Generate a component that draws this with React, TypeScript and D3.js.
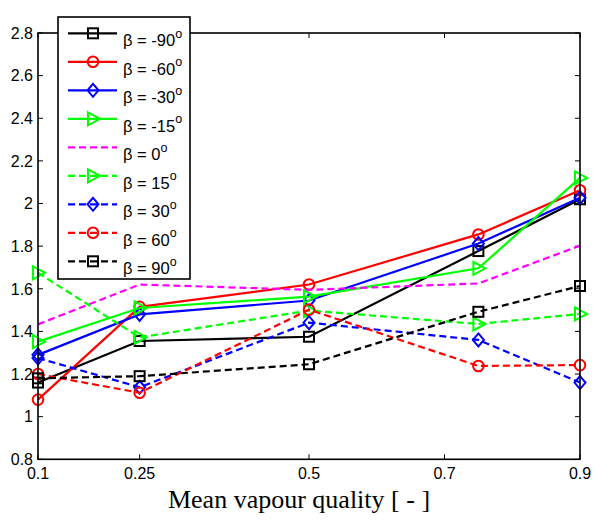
import React from "react";
import * as d3 from "d3";

const xValues = [0.1, 0.25, 0.5, 0.75, 0.9];
const xTicks = [0.1, 0.25, 0.5, 0.7, 0.9];
const xTickLabels = ["0.1", "0.25", "0.5", "0.7", "0.9"];
const yTicks = [0.8, 1, 1.2, 1.4, 1.6, 1.8, 2, 2.2, 2.4, 2.6, 2.8];
const yTickLabels = ["0.8", "1", "1.2", "1.4", "1.6", "1.8", "2", "2.2", "2.4", "2.6", "2.8"];

const seriesNames = ["-90", "-60", "-30", "-15", "0", "15", "30", "60", "90"];
const seriesColors = ["#000000", "#ff0000", "#0000ff", "#00ff00", "#ff00ff", "#00ff00", "#0000ff", "#ff0000", "#000000"];
const seriesDashed = [false, false, false, false, true, true, true, true, true];
const seriesMarkers = ["square", "circle", "diamond", "triangle", "none", "triangle", "diamond", "circle", "square"];

const sMinus90 = [1.16, 1.355, 1.375, 1.777, 2.02];
const sMinus60 = [1.08, 1.515, 1.62, 1.855, 2.062];
const sMinus30 = [1.29, 1.48, 1.545, 1.812, 2.027];
const sMinus15 = [1.352, 1.51, 1.563, 1.696, 2.12];
const s0 = [1.433, 1.62, 1.595, 1.625, 1.802];
const s15 = [1.675, 1.372, 1.498, 1.435, 1.482];
const s30 = [1.275, 1.138, 1.441, 1.36, 1.16];
const s60 = [1.2, 1.112, 1.502, 1.238, 1.242];
const s90 = [1.18, 1.19, 1.246, 1.492, 1.613];

const seriesValues = [sMinus90, sMinus60, sMinus30, sMinus15, s0, s15, s30, s60, s90];

const W = 611;
const H = 523;
const left = 38;
const right = 580;
const top = 33;
const bottom = 459.3;

function Marker({ type, x, y, color }: { type: string; x: number; y: number; color: string }) {
  const sw = 2;
  if (type === "square") {
    return <rect x={x - 5} y={y - 5} width={10} height={10} fill="none" stroke={color} strokeWidth={sw} />;
  }
  if (type === "circle") {
    return <circle cx={x} cy={y} r={5.3} fill="none" stroke={color} strokeWidth={sw} />;
  }
  if (type === "diamond") {
    const p = `${x},${y - 6.5} ${x + 5.5},${y} ${x},${y + 6.5} ${x - 5.5},${y}`;
    return <polygon points={p} fill="none" stroke={color} strokeWidth={sw} />;
  }
  if (type === "triangle") {
    const p = `${x - 5},${y - 6.5} ${x + 7},${y} ${x - 5},${y + 6.5}`;
    return <polygon points={p} fill="none" stroke={color} strokeWidth={sw} />;
  }
  return null;
}

export default function App() {
  const xScale = d3.scaleLinear().domain([0.1, 0.9]).range([left, right]);
  const yScale = d3.scaleLinear().domain([0.8, 2.8]).range([bottom, top]);
  const line = d3
    .line<number>()
    .x((_, i) => xScale(xValues[i]))
    .y((d) => yScale(d));

  const legX = 58;
  const legY = 17;
  const legW = 132;
  const legH = 262;
  const rowY0 = 33.3;
  const rowStep = 28.5;

  const font = "'Liberation Sans', Arial, sans-serif";

  return (
    <svg width={W} height={H} style={{ position: "absolute", left: 0, top: 0, background: "#fff" }}>
      <rect x={0} y={0} width={W} height={H} fill="#fff" />
      {yTicks.map((t, i) => (
        <g key={"y" + i}>
          <line x1={left} x2={left + 5} y1={yScale(t)} y2={yScale(t)} stroke="#000" strokeWidth={1} />
          <line x1={right} x2={right - 5} y1={yScale(t)} y2={yScale(t)} stroke="#000" strokeWidth={1} />
          <text x={33} y={yScale(t)} dy="0.36em" textAnchor="end" fontFamily={font} fontSize={16} fill="#000">
            {yTickLabels[i]}
          </text>
        </g>
      ))}
      {xTicks.map((t, i) => (
        <g key={"x" + i}>
          <line x1={xScale(t)} x2={xScale(t)} y1={bottom} y2={bottom - 5} stroke="#000" strokeWidth={1} />
          <line x1={xScale(t)} x2={xScale(t)} y1={top} y2={top + 5} stroke="#000" strokeWidth={1} />
          <text x={xScale(t)} y={479} textAnchor="middle" fontFamily={font} fontSize={16} fill="#000">
            {xTickLabels[i]}
          </text>
        </g>
      ))}
      {seriesValues.map((vals, si) => (
        <g key={"s" + si}>
          <path
            d={line(vals) || ""}
            fill="none"
            stroke={seriesColors[si]}
            strokeWidth={2.2}
            strokeDasharray={seriesDashed[si] ? "7,4" : undefined}
          />
          {vals.map((v, i) => (
            <Marker key={i} type={seriesMarkers[si]} x={xScale(xValues[i])} y={yScale(v)} color={seriesColors[si]} />
          ))}
        </g>
      ))}
      <rect x={left} y={top} width={right - left} height={bottom - top} fill="none" stroke="#000" strokeWidth={1.6} />
      <rect x={legX} y={legY} width={legW} height={legH} fill="#fff" stroke="#000" strokeWidth={1.6} />
      {seriesNames.map((n, i) => {
        const ry = rowY0 + i * rowStep;
        return (
          <g key={"l" + i}>
            <line
              x1={68}
              x2={117}
              y1={ry}
              y2={ry}
              stroke={seriesColors[i]}
              strokeWidth={2.2}
              strokeDasharray={seriesDashed[i] ? "7,4" : undefined}
            />
            <Marker type={seriesMarkers[i]} x={93} y={ry} color={seriesColors[i]} />
            <text x={123} y={ry + 13} fontFamily={font} fontSize={16.5} fill="#000">
              {"β = " + n}
              <tspan dy={-8.5} fontSize={12.5}>o</tspan>
            </text>
          </g>
        );
      })}
      <text x={299} y={508} textAnchor="middle" fontFamily="'Liberation Serif', 'Times New Roman', serif" fontSize={26} fill="#000">
        Mean vapour quality [ - ]
      </text>
    </svg>
  );
}
